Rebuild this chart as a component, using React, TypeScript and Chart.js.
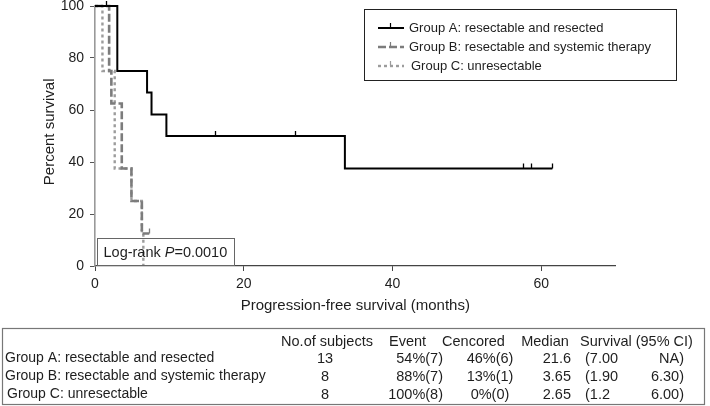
import React, { useEffect, useRef } from "react";
import { Chart, registerables } from "chart.js";

Chart.register(...registerables);

const FONT = '"Liberation Sans", Arial, Helvetica, sans-serif';
const TEXT = "#1e1e1e";

// ---- Data ----
const groupLabels = [
  "Group A: resectable and resected",
  "Group B: resectable and systemic therapy",
  "Group C: unresectable",
];

const groupATimes = [0, 3.0, 7.0, 7.6, 9.6, 33.6, 61.5];
const groupASurvival = [100, 75, 66.7, 58.3, 50, 37.5, 37.5];
const groupACensorTimes = [1.5, 16.1, 26.9, 57.5, 58.6, 61.5];
const groupACensorSurvival = [100, 50, 50, 37.5, 37.5, 37.5];

const groupBTimes = [0, 1.9, 2.2, 3.6, 4.9, 6.3, 7.3];
const groupBSurvival = [100, 75, 62.5, 37.5, 25, 12.5, 12.5];
const groupBCensorTimes = [7.3];
const groupBCensorSurvival = [12.5];

const groupCTimes = [0, 1.0, 2.65, 4.9, 6.3, 6.5];
const groupCSurvival = [100, 75, 37.5, 25, 12.5, 0];

const xTickValues = [0, 20, 40, 60];
const yTickValues = [0, 20, 40, 60, 80, 100];

const logRankPrefix = "Log-rank ";
const logRankP = "P";
const logRankSuffix = "=0.0010";

const tableHeaders = ["No.of subjects", "Event", "Cencored", "Median", "Survival (95% CI)"];
const tableSubjects = ["13", "8", "8"];
const tableEvents = ["54%(7)", "88%(7)", "100%(8)"];
const tableCensored = ["46%(6)", "13%(1)", "0%(0)"];
const tableMedians = ["21.6", "3.65", "2.65"];
const tableCILower = ["(7.00", "(1.90", "(1.2"];
const tableCIUpper = ["NA)", "6.30)", "6.00)"];

const toPoints = (xs: number[], ys: number[]) => xs.map((x, i) => ({ x, y: ys[i] }));

const seriesStyles = [
  { color: "#000000", width: 2, dash: [] as number[] },
  { color: "#7c7c7c", width: 2.6, dash: [8, 3] },
  { color: "#9c9c9c", width: 2.4, dash: [3, 3] },
];

const censorSets = [
  { times: groupACensorTimes, surv: groupACensorSurvival, style: 0 },
  { times: groupBCensorTimes, surv: groupBCensorSurvival, style: 1 },
];

const overlayPlugin = {
  id: "kmOverlay",
  afterDatasetsDraw(chart: any) {
    const ctx: CanvasRenderingContext2D = chart.ctx;
    const xs = chart.scales.x;
    const ys = chart.scales.y;
    censorSets.forEach((cs) => {
      const st = seriesStyles[cs.style];
      ctx.save();
      ctx.strokeStyle = st.color;
      ctx.lineWidth = 1.3;
      ctx.setLineDash([]);
      cs.times.forEach((t, i) => {
        const px = Math.round(xs.getPixelForValue(t)) + 0.5;
        const py = ys.getPixelForValue(cs.surv[i]);
        ctx.beginPath();
        ctx.moveTo(px, py);
        ctx.lineTo(px, py - 5);
        ctx.stroke();
      });
      ctx.restore();
    });
  },
  afterDraw(chart: any) {
    const ctx: CanvasRenderingContext2D = chart.ctx;
    const area = chart.chartArea;
    ctx.save();

    // legend box
    ctx.strokeStyle = "#222";
    ctx.lineWidth = 1;
    ctx.strokeRect(364.5, 9.5, 312, 71);
    const rowsY = [28, 47, 66];
    ctx.font = `13px ${FONT}`;
    ctx.textBaseline = "middle";
    ctx.fillStyle = TEXT;
    chart.data.datasets.forEach((ds: any, i: number) => {
      const st = seriesStyles[i];
      const y = rowsY[i];
      ctx.strokeStyle = st.color;
      ctx.lineWidth = st.width;
      ctx.setLineDash(st.dash);
      ctx.beginPath();
      ctx.moveTo(378, y);
      ctx.lineTo(404, y);
      ctx.stroke();
      ctx.setLineDash([]);
      ctx.lineWidth = 1.2;
      ctx.beginPath();
      ctx.moveTo(390.5, y);
      ctx.lineTo(390.5, y - 5);
      ctx.stroke();
      ctx.fillStyle = TEXT;
      ctx.textAlign = "left";
      ctx.fillText(ds.label, i === 2 ? 411 : 409, y);
    });

    // log-rank box
    const bx = area.left + 2.5;
    const by = area.bottom - 27.5;
    ctx.strokeStyle = "#666";
    ctx.lineWidth = 1;
    ctx.setLineDash([]);
    ctx.strokeRect(bx, by, 137, 27);
    ctx.fillStyle = TEXT;
    ctx.textAlign = "left";
    ctx.textBaseline = "middle";
    let tx = bx + 6;
    const ty = by + 14;
    ctx.font = `14.5px ${FONT}`;
    ctx.fillText(logRankPrefix, tx, ty);
    tx += ctx.measureText(logRankPrefix).width;
    ctx.font = `italic 14.5px ${FONT}`;
    ctx.fillText(logRankP, tx, ty);
    tx += ctx.measureText(logRankP).width;
    ctx.font = `14.5px ${FONT}`;
    ctx.fillText(logRankSuffix, tx, ty);

    // table
    ctx.strokeStyle = "#777";
    ctx.lineWidth = 1.2;
    ctx.strokeRect(2.5, 328.5, 702, 76);
    ctx.font = `14.5px ${FONT}`;
    ctx.fillStyle = TEXT;
    ctx.textBaseline = "middle";
    const headerCenters = [327, 407.5, 473.5, 545, 636.5];
    ctx.textAlign = "center";
    tableHeaders.forEach((h, i) => ctx.fillText(h, headerCenters[i], 342));
    const rowY = [358, 376, 394];
    groupLabels.forEach((g, i) => {
      ctx.font = `14px ${FONT}`;
      ctx.textAlign = "left";
      ctx.fillText(g, i === 2 ? 7 : 5, rowY[i]);
      ctx.font = `14.5px ${FONT}`;
      ctx.textAlign = "center";
      ctx.fillText(tableSubjects[i], 325, rowY[i] + 1);
      ctx.textAlign = "right";
      ctx.fillText(tableEvents[i], 443, rowY[i] + 1);
      ctx.textAlign = "center";
      ctx.fillText(tableCensored[i], 490, rowY[i] + 1);
      ctx.textAlign = "right";
      ctx.fillText(tableMedians[i], 571, rowY[i] + 1);
      ctx.textAlign = "left";
      ctx.fillText(tableCILower[i], 585, rowY[i] + 1);
      ctx.textAlign = "right";
      ctx.fillText(tableCIUpper[i], 684, rowY[i] + 1);
    });
    ctx.restore();
  },
};

export default function App() {
  const canvasRef = useRef<HTMLCanvasElement | null>(null);

  useEffect(() => {
    if (!canvasRef.current) return;
    Chart.defaults.font.family = FONT;
    Chart.defaults.color = TEXT;
    const seriesTimes = [groupATimes, groupBTimes, groupCTimes];
    const seriesSurv = [groupASurvival, groupBSurvival, groupCSurvival];
    const chart = new Chart(canvasRef.current, {
      type: "line",
      data: {
        datasets: groupLabels.map((label, i) => ({
          label,
          data: toPoints(seriesTimes[i], seriesSurv[i]),
          borderColor: seriesStyles[i].color,
          borderWidth: seriesStyles[i].width,
          borderDash: seriesStyles[i].dash,
          stepped: true,
          pointRadius: 0,
          fill: false,
          clip: false,
          borderCapStyle: "butt",
        })),
      },
      options: {
        responsive: false,
        animation: false,
        events: [],
        layout: { padding: { left: 0, top: 6, right: 94.4, bottom: 90 } },
        plugins: { legend: { display: false }, tooltip: { enabled: false } },
        scales: {
          x: {
            type: "linear",
            min: 0,
            max: 70,
            afterFit: (s: any) => {
              s.height = 50;
            },
            afterBuildTicks: (s: any) => {
              s.ticks = xTickValues.map((v) => ({ value: v }));
            },
            ticks: {
              stepSize: 20,
              includeBounds: false,
              font: { size: 14 },
              color: TEXT,
              padding: 5,
              maxRotation: 0,
            },
            grid: {
              display: true,
              drawOnChartArea: false,
              drawTicks: true,
              tickLength: 5,
              color: "#444",
            },
            border: { display: true, color: "#444", width: 1.2 },
            title: {
              display: true,
              text: "Progression-free survival (months)",
              font: { size: 15 },
              color: TEXT,
              padding: { top: 0, bottom: 1 },
            },
          },
          y: {
            type: "linear",
            min: 0,
            max: 100,
            afterFit: (s: any) => {
              s.width = 95;
            },
            afterBuildTicks: (s: any) => {
              s.ticks = yTickValues.map((v) => ({ value: v }));
            },
            ticks: {
              stepSize: 20,
              font: { size: 14, lineHeight: 0 },
              color: TEXT,
              padding: 6,
            },
            grid: {
              display: true,
              drawOnChartArea: false,
              drawTicks: true,
              tickLength: 5,
              color: "#555",
            },
            border: { display: true, color: "#999", width: 1.6 },
            title: {
              display: true,
              text: "  Percent survival",
              font: { size: 15 },
              color: TEXT,
              padding: { top: 41, bottom: 0 },
            },
          },
        },
      },
      plugins: [overlayPlugin],
    } as any);
    return () => chart.destroy();
  }, []);

  return (
    <div style={{ position: "fixed", left: 0, top: 0, width: 710, height: 406, background: "#fff" }}>
      <canvas ref={canvasRef} width={710} height={406} style={{ width: 710, height: 406, display: "block" }} />
    </div>
  );
}
